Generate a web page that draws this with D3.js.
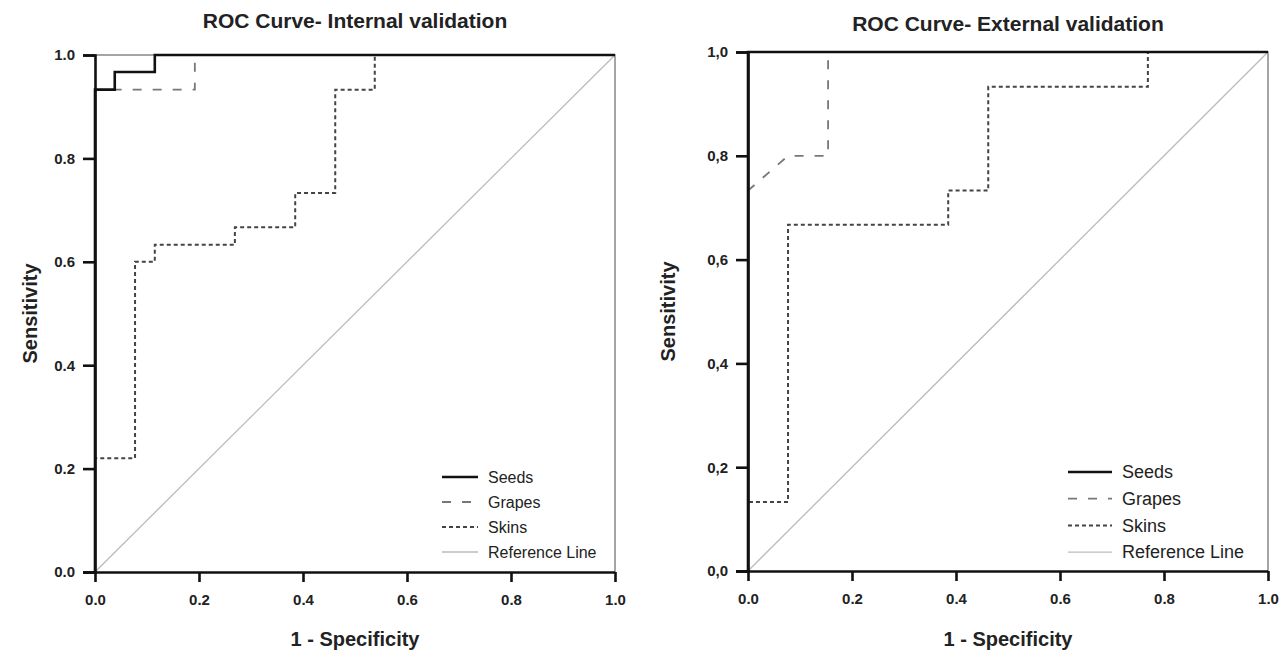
<!DOCTYPE html>
<html lang="en">

<head>
    <meta charset="UTF-8">
    <title>ROC Curves</title>
    <style>
        body {
            margin: 0;
            background: #ffffff;
        }

        text {
            font-family: "Liberation Sans", Arial, sans-serif;
            fill: #222;
        }
    </style>
    <script src="https://cdn.jsdelivr.net/npm/d3@7"></script>
</head>

<body>
</body>

<script>
    // tick values shared by both panels
    const tickValues = [0, 0.2, 0.4, 0.6, 0.8, 1.0];

    // legend entries, in order
    const seriesNames = ["Seeds", "Grapes", "Skins", "Reference Line"];

    // internal validation curves: [1 - specificity, sensitivity]
    const internalSeeds = [[0, 0], [0, 0.933], [0.038, 0.933], [0.038, 0.967], [0.115, 0.967], [0.115, 1], [1, 1]];
    const internalGrapes = [[0, 0], [0, 0.933], [0.192, 0.933], [0.192, 1], [1, 1]];
    const internalSkins = [[0, 0], [0, 0.22], [0.077, 0.22], [0.077, 0.6], [0.115, 0.6], [0.115, 0.633],
        [0.269, 0.633], [0.269, 0.667], [0.385, 0.667], [0.385, 0.733], [0.462, 0.733], [0.462, 0.933],
        [0.538, 0.933], [0.538, 1], [1, 1]];

    // external validation curves
    const externalSeeds = [[0, 0], [0, 1], [1, 1]];
    const externalGrapes = [[0, 0], [0, 0.733], [0.077, 0.8], [0.154, 0.8], [0.154, 1], [1, 1]];
    const externalSkins = [[0, 0], [0, 0.133], [0.077, 0.133], [0.077, 0.667], [0.385, 0.667], [0.385, 0.733],
        [0.462, 0.733], [0.462, 0.933], [0.769, 0.933], [0.769, 1], [1, 1]];

    const referenceLine = [[0, 0], [1, 1]];

    // line styles per series
    const styles = {
        "Seeds": { color: "#111", width: 2.6, dash: null },
        "Grapes": { color: "#777", width: 1.8, dash: "9,11" },
        "Skins": { color: "#444", width: 2, dash: "4,3" },
        "Reference Line": { color: "#bbb", width: 1.3, dash: null }
    };

    const svg = d3.select("body").append("svg")
        .attr("width", 1282)
        .attr("height", 654);

    const commaLocale = d3.formatLocale({ decimal: ",", thousands: ".", grouping: [3], currency: ["", ""] });

    function drawPanel(opt) {
        const x = d3.scaleLinear().domain([0, 1]).range([opt.x0, opt.x1]);
        const y = d3.scaleLinear().domain([0, 1]).range([opt.y0, opt.y1]);
        const g = svg.append("g");

        // light frame on top and right
        g.append("path")
            .attr("d", `M${x(0)},${y(1)}H${x(1)}V${y(0)}`)
            .attr("fill", "none")
            .attr("stroke", "#888")
            .attr("stroke-width", 1.5);

        const line = d3.line().x(d => x(d[0])).y(d => y(d[1]));

        // reference first, then curves on top
        const series = [
            ["Reference Line", referenceLine],
            ["Skins", opt.skins],
            ["Grapes", opt.grapes],
            ["Seeds", opt.seeds]
        ];
        series.forEach(([name, pts]) => {
            const st = styles[name];
            g.append("path")
                .datum(pts)
                .attr("d", line)
                .attr("fill", "none")
                .attr("stroke", st.color)
                .attr("stroke-width", st.width)
                .attr("stroke-dasharray", st.dash);
        });

        // axes
        const xAxis = d3.axisBottom(x).tickValues(tickValues).tickSize(10).tickPadding(12)
            .tickFormat(d3.format(".1f"));
        const yAxis = d3.axisLeft(y).tickValues(tickValues).tickSize(12).tickPadding(8)
            .tickFormat(opt.yFormat);

        const gx = g.append("g").attr("transform", `translate(0,${y(0)})`).call(xAxis);
        const gy = g.append("g").attr("transform", `translate(${x(0)},0)`).call(yAxis);
        [gx, gy].forEach(a => {
            a.select(".domain").attr("stroke", "#111").attr("stroke-width", 2.6);
            a.selectAll(".tick line").attr("stroke", "#111").attr("stroke-width", 2.6);
            a.selectAll(".tick text")
                .attr("fill", "#222")
                .style("font-family", "'Liberation Sans', Arial, sans-serif")
                .style("font-size", "15px")
                .style("font-weight", "bold");
        });
        gx.select(".domain").attr("d", `M${x(0) - 12},0.5H${x(1)}`);

        // titles
        g.append("text")
            .attr("x", (x(0) + x(1)) / 2)
            .attr("y", opt.titleY)
            .attr("text-anchor", "middle")
            .style("font-size", "21px")
            .style("font-weight", "bold")
            .text(opt.title);

        g.append("text")
            .attr("x", (x(0) + x(1)) / 2)
            .attr("y", 646)
            .attr("text-anchor", "middle")
            .style("font-size", "20px")
            .style("font-weight", "bold")
            .text("1 - Specificity");

        g.append("text")
            .attr("transform", `translate(${opt.ylabelX},${(y(0) + y(1)) / 2}) rotate(-90)`)
            .attr("text-anchor", "middle")
            .style("font-size", "20px")
            .style("font-weight", "bold")
            .text("Sensitivity");

        // legend
        const lg = g.append("g").attr("transform", `translate(${opt.legendX},${opt.legendY})`);
        seriesNames.forEach((name, i) => {
            const st = styles[name];
            const row = lg.append("g").attr("transform", `translate(0,${i * opt.legendStep})`);
            row.append("line")
                .attr("x1", 0).attr("x2", opt.legendLen)
                .attr("y1", 0).attr("y2", 0)
                .attr("stroke", st.color)
                .attr("stroke-width", name === "Seeds" ? 2.6 : st.width)
                .attr("stroke-dasharray", st.dash);
            row.append("text")
                .attr("x", opt.legendLen + 10)
                .attr("y", 0)
                .attr("dy", "0.35em")
                .style("font-size", opt.legendFont)
                .text(name);
        });
    }

    drawPanel({
        x0: 95, x1: 615, y0: 572, y1: 55,
        seeds: internalSeeds, grapes: internalGrapes, skins: internalSkins,
        title: "ROC Curve- Internal validation", titleY: 28,
        ylabelX: 37,
        yFormat: d3.format(".1f"),
        legendX: 442, legendY: 477, legendStep: 25, legendLen: 36, legendFont: "16px"
    });

    drawPanel({
        x0: 748, x1: 1268, y0: 571, y1: 52,
        seeds: externalSeeds, grapes: externalGrapes, skins: externalSkins,
        title: "ROC Curve- External validation", titleY: 31,
        ylabelX: 675,
        yFormat: commaLocale.format(".1f"),
        legendX: 1068, legendY: 472, legendStep: 26.7, legendLen: 44, legendFont: "18px"
    });
</script>

</html>
